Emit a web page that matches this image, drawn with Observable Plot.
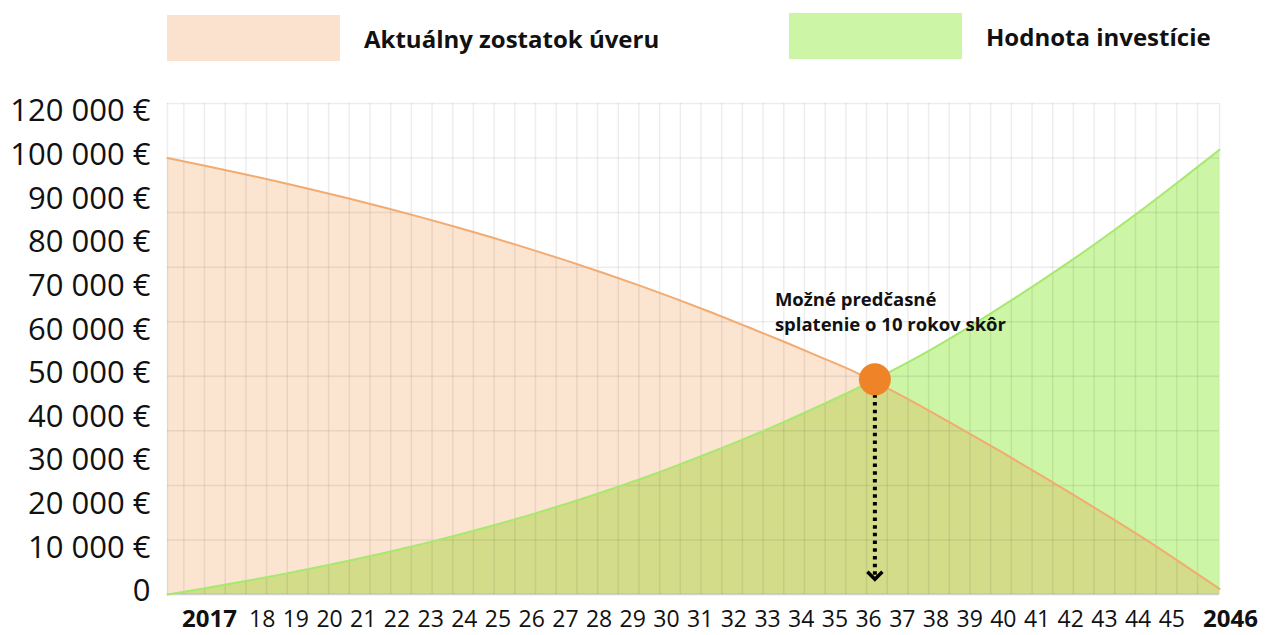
<!DOCTYPE html>
<html><head><meta charset="utf-8">
<script src="https://cdn.jsdelivr.net/npm/d3@7"></script>
<script src="https://cdn.jsdelivr.net/npm/@observablehq/plot@0.6"></script>
<style>
body{margin:0;background:#fff;font-family:"Open Sans",sans-serif;}
#wrap{position:relative;width:1269px;height:635px;overflow:hidden;}
#legend{position:relative;height:70px;width:1269px;}
.item{position:absolute;display:flex;align-items:center;}
.sw{width:173px;height:46px;}
.lab{margin-left:24px;font-weight:700;font-size:24px;color:#111;}
svg{display:block;}
</style></head><body>
<div id="wrap"><div id="legend"></div><div id="chart"></div><div id="xlabels"></div></div>
<script>
const years = [2017,2018,2019,2020,2021,2022,2023,2024,2025,2026,2027,2028,2029,2030,2031,2032,2033,2034,2035,2036,2037,2038,2039,2040,2041,2042,2043,2044,2045,2046];
const loanBalance = [100000,98310,96540,94690,92760,90740,88620,86410,84090,81670,79140,76490,73720,70820,67780,64600,61280,57900,54400,50800,46600,42100,37400,32600,27700,22700,17600,12400,6900,1300];
const investmentValue = [0,1380,2840,4380,6010,7740,9580,11540,13630,15860,18240,20780,23480,26350,29400,32640,36000,39550,43300,47200,51400,55900,60800,66000,71400,77000,82900,89000,95400,101900];
const seriesNames = ["Aktuálny zostatok úveru", "Hodnota investície"];
const legendColors = ["#fae2cf", "#ccf5a5"];
const yTickValues = [0,10000,20000,30000,40000,50000,60000,70000,80000,90000,100000,110000];
const yTickLabels = ["0","10 000 €","20 000 €","30 000 €","40 000 €","50 000 €","60 000 €","70 000 €","80 000 €","90 000 €","100 000 €","120 000 €"];
const xTickLabels = ["2017","18","19","20","21","22","23","24","25","26","27","28","29","30","31","32","33","34","35","36","37","38","39","40","41","42","43","44","45","2046"];
const crossPoint = [{year: 2036.5, value: 49300}];
const arrowEndValue = 3500;
const annotationText = "Možné predčasné\nsplatenie o 10 rokov skôr";

// legend
const legend = document.getElementById("legend");
const legendLeft = [167, 789];
seriesNames.forEach((name, i) => {
  const it = document.createElement("div");
  it.className = "item";
  it.style.left = legendLeft[i] + "px";
  it.style.top = (i === 0 ? 15 : 13) + "px";
  const sw = document.createElement("div");
  sw.className = "sw"; sw.style.background = legendColors[i];
  const lb = document.createElement("div");
  lb.className = "lab"; lb.textContent = name;
  it.append(sw, lb);
  legend.append(it);
});

const data = years.map((y, i) => ({year: y, loan: loanBalance[i], invest: investmentValue[i]}));
const gridY = d3.range(0, 112501, 12500);
const gridX = [2017, ...d3.range(50).map(k => 2017.45 + k * 0.5703), 2046];
const chevron = {draw(ctx) { ctx.moveTo(-7.5, -7.5); ctx.lineTo(0, 0); ctx.lineTo(7.5, -7.5); }};

const chart = Plot.plot({
  width: 1269, height: 535,
  marginLeft: 167, marginRight: 50, marginTop: 33, marginBottom: 11,
  style: {fontFamily: "'Open Sans', sans-serif", background: "#fff", overflow: "visible"},
  x: {domain: [2017, 2046], axis: null},
  y: {domain: [0, 112500], axis: null},
  marks: [
    Plot.areaY(data, {x: "year", y: "invest", fill: "#ccf5a5", curve: "monotone-x"}),
    Plot.areaY(data, {x: "year", y: "loan", fill: "#ee8427", fillOpacity: 0.22, curve: "monotone-x"}),
    Plot.ruleY(gridY, {stroke: "#000", strokeOpacity: 0.07, strokeWidth: 1.5}),
    Plot.ruleX(gridX, {stroke: "#000", strokeOpacity: 0.07, strokeWidth: 1.5}),
    Plot.ruleY([0], {stroke: "#000", strokeOpacity: 0.12, strokeWidth: 1.5}),
    Plot.line(data, {x: "year", y: "invest", stroke: "#a8e870", strokeWidth: 2, curve: "monotone-x"}),
    Plot.line(data, {x: "year", y: "loan", stroke: "#f2ab70", strokeWidth: 2, curve: "monotone-x"}),
    Plot.ruleX(crossPoint, {x: "year", y1: "value", y2: () => arrowEndValue, stroke: "#000", strokeWidth: 4, strokeDasharray: "3.5 4.2"}),
    Plot.dot(crossPoint, {x: "year", y: () => arrowEndValue, symbol: chevron, fill: "none", stroke: "#000", strokeWidth: 3.5}),
    Plot.dot(crossPoint, {x: "year", y: "value", r: 16, fill: "#ee8427"}),
    Plot.text(crossPoint, {x: "year", y: "value", text: () => annotationText, textAnchor: "start", lineAnchor: "top", dx: -100, dy: -91, fontSize: 18.5, fontWeight: "bold", lineHeight: 1.35, fill: "#111"}),
    Plot.axisY(yTickValues, {tickFormat: d => yTickLabels[yTickValues.indexOf(d)], fontSize: 31, tickSize: 0, tickPadding: 17, dy: -3, label: null, fill: "#111"})
  ]
});
document.getElementById("chart").append(chart);

const xl = Plot.plot({
  width: 1269, height: 30,
  marginLeft: 228, marginRight: 64, marginTop: 0, marginBottom: 0,
  style: {fontFamily: "'Open Sans', sans-serif", background: "#fff", overflow: "visible"},
  x: {type: "point", domain: xTickLabels, padding: 0, round: false, axis: null},
  marks: [
    Plot.text(xTickLabels.slice(1, -1), {x: d => d, fontSize: 23, dy: -1, fill: "#111"}),
    Plot.text(xTickLabels.slice(0, 1), {x: d => d, fontSize: 24, fontWeight: "bold", dx: -19, dy: -1, fill: "#111"}),
    Plot.text(xTickLabels.slice(-1), {x: d => d, fontSize: 24, fontWeight: "bold", dx: 25, dy: -1, fill: "#111"})
  ]
});
document.getElementById("xlabels").append(xl);
</script>
</body></html>
